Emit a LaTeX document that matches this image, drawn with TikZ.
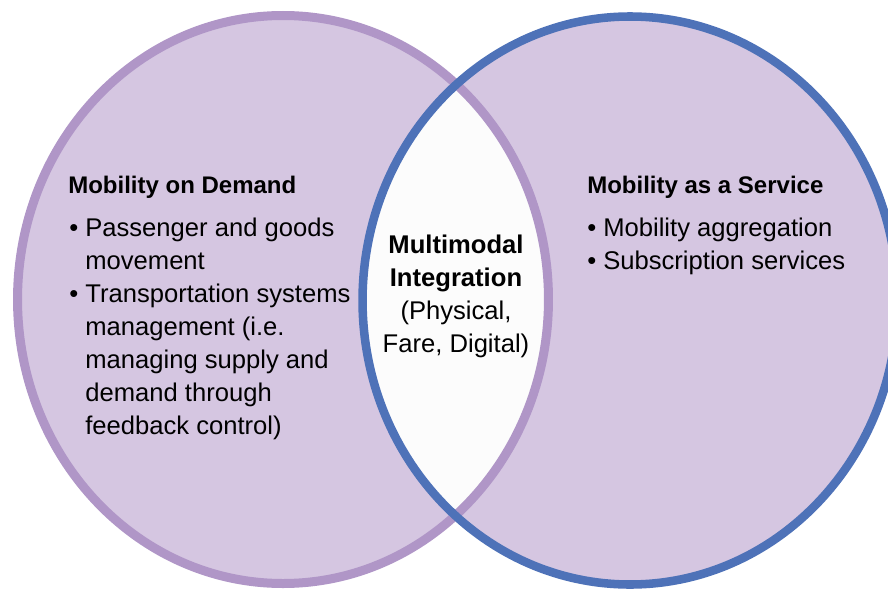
\documentclass[tikz,border=0pt]{standalone}
\usepackage{fontspec}
\setmainfont{Liberation Sans}
\definecolor{vennfill}{RGB}{213,198,225}
\definecolor{modline}{RGB}{176,150,199}
\definecolor{maasline}{RGB}{78,114,184}
\definecolor{lensfill}{RGB}{252,252,252}

\begin{document}
\begin{tikzpicture}[x=0.75pt,y=0.75pt,yscale=-1,xscale=1,
    headtext/.style={anchor=base west, inner sep=0pt, font=\fontsize{18}{24.75}\selectfont\bfseries},
    listtext/.style={anchor=base west, inner sep=0pt, align=left, font=\fontsize{19.2}{24.75}\selectfont},
    lenstext/.style={anchor=base, inner sep=0pt, align=center, font=\fontsize{19.2}{24.75}\selectfont}]
    \useasboundingbox (0,0) rectangle (888,592);

    %Shape: Ellipse [id:mod] 
    \fill [vennfill] (283,299.5) ellipse [x radius=199.1pt, y radius=213pt];
    %Shape: Ellipse [id:maas] 
    \fill [vennfill] (630,300.5) ellipse [x radius=200.6pt, y radius=213pt];
    %Shape: Lens
    \begin{scope}
        \clip (283,299.5) ellipse [x radius=199.1pt, y radius=213pt];
        \fill [lensfill] (630,300.5) ellipse [x radius=200.6pt, y radius=213pt];
    \end{scope}
    %Shape: Ellipse outlines
    \draw [modline, line width=6.75pt] (283,299.5) ellipse [x radius=199.1pt, y radius=213pt];
    \draw [maasline, line width=6.4pt] (630,300.5) ellipse [x radius=200.6pt, y radius=213pt];

    % Text Node (base = last line)
    \node [headtext] (modhead) at (68,193) {Mobility on Demand};
    % Text Node
    \node [listtext] (modlist) at (69,434) {• Passenger and goods\\\hphantom{• }movement\\• Transportation systems\\\hphantom{• }management (i.e.\\\hphantom{• }managing supply and\\\hphantom{• }demand through\\\hphantom{• }feedback control)};
    % Text Node
    \node [headtext] (maashead) at (587,193) {Mobility as a Service};
    % Text Node
    \node [listtext] (maaslist) at (587,269) {• Mobility aggregation\\• Subscription services};
    % Text Node
    \node [lenstext] (lenslabel) at (456,352) {\textbf{Multimodal}\\\textbf{Integration}\\(Physical,\\Fare, Digital)};

\end{tikzpicture}
\end{document}
